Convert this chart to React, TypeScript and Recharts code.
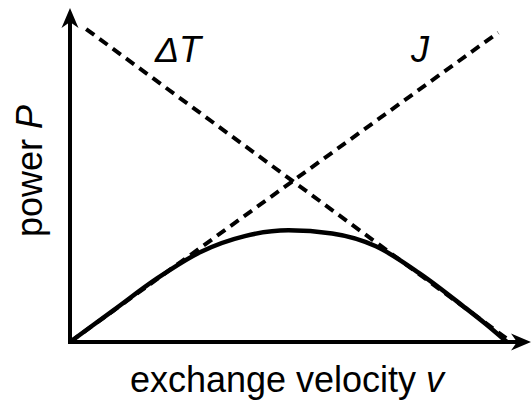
import React from 'react'
import { LineChart, Line, XAxis, YAxis, ReferenceLine } from 'recharts'

// exchange velocity v (normalised) and power P
const curveV = [0, 0.1, 0.2, 0.3, 0.4, 0.5, 0.6, 0.7, 0.8, 0.9, 0.95, 1.0]
const powerP = [0, 0.1, 0.2, 0.283, 0.332, 0.35, 0.34, 0.3, 0.215, 0.112, 0.058, 0]

// dashed asymptotes
const fluxV = [0, 0.98]
const fluxJ = [0, 0.97]
const deltaV = [0.037, 1.01]
const deltaT = [0.981, 0]

const X_MAX = 1.055
const Y_MAX = 1.047
const FONT = '"Liberation Sans", Arial, Helvetica, sans-serif'

function buildRows() {
  const rows = new Map<number, any>()
  const put = (v: number, key: string, val: number) => {
    const r = rows.get(v) ?? { v }
    r[key] = val
    rows.set(v, r)
  }
  curveV.forEach((v, i) => put(v, 'p', powerP[i]))
  fluxV.forEach((v, i) => put(v, 'j', fluxJ[i]))
  deltaV.forEach((v, i) => put(v, 'dT', deltaT[i]))
  return [...rows.values()].sort((a, b) => a.v - b.v)
}

const data = buildRows()

function ArrowAxis(props: any) {
  const { x1, y1, x2, y2 } = props
  const dx = x2 - x1
  const dy = y2 - y1
  const len = Math.hypot(dx, dy)
  const ux = dx / len
  const uy = dy / len
  const px = -uy
  const py = ux
  const headLen = 20
  const headW = 8.5
  const notch = 6
  const bx = x2 - ux * headLen
  const by = y2 - uy * headLen
  const nx = x2 - ux * (headLen - notch)
  const ny = y2 - uy * (headLen - notch)
  return (
    <g>
      <line x1={x1 - ux * 2} y1={y1 - uy * 2} x2={nx} y2={ny} stroke="#000" strokeWidth={4} />
      <path
        d={`M${x2},${y2} L${bx + px * headW},${by + py * headW} L${nx},${ny} L${bx - px * headW},${by - py * headW} Z`}
        fill="#000"
      />
    </g>
  )
}

export default function App() {
  return (
    <div style={{ position: 'fixed', left: 0, top: 0, background: '#fff' }}>
      <LineChart
        width={532}
        height={402}
        data={data}
        margin={{ top: 8, right: 1, bottom: 60, left: 70 }}
      >
        <XAxis type="number" dataKey="v" domain={[0, X_MAX]} hide />
        <YAxis type="number" domain={[0, Y_MAX]} hide />
        <Line
          type="linear"
          dataKey="dT"
          stroke="#000"
          strokeWidth={4}
          strokeDasharray="10 6.5"
          dot={false}
          connectNulls
          isAnimationActive={false}
        />
        <Line
          type="linear"
          dataKey="j"
          stroke="#000"
          strokeWidth={4}
          strokeDasharray="10 6.5"
          dot={false}
          connectNulls
          isAnimationActive={false}
        />
        <Line
          type="monotone"
          dataKey="p"
          stroke="#000"
          strokeWidth={4.5}
          dot={false}
          connectNulls
          isAnimationActive={false}
        />
        <ReferenceLine
          segment={[{ x: 0, y: 0 }, { x: X_MAX, y: 0 }]}
          ifOverflow="visible"
          shape={ArrowAxis}
        />
        <ReferenceLine
          segment={[{ x: 0, y: 0 }, { x: 0, y: Y_MAX }]}
          ifOverflow="visible"
          shape={ArrowAxis}
        />
        <text x={178} y={62} textAnchor="middle" fontFamily={FONT} fontSize={36} fontStyle="italic" fill="#000">
          ΔT
        </text>
        <text x={420} y={62} textAnchor="middle" fontFamily={FONT} fontSize={36} fontStyle="italic" fill="#000">
          J
        </text>
        <text x={287} y={392} textAnchor="middle" fontFamily={FONT} fontSize={36} fill="#000">
          exchange velocity <tspan fontStyle="italic">v</tspan>
        </text>
        <text
          x={42}
          y={171}
          transform="rotate(-90 42 171)"
          textAnchor="middle"
          fontFamily={FONT}
          fontSize={36}
          fill="#000"
        >
          power <tspan fontStyle="italic">P</tspan>
        </text>
      </LineChart>
    </div>
  )
}
